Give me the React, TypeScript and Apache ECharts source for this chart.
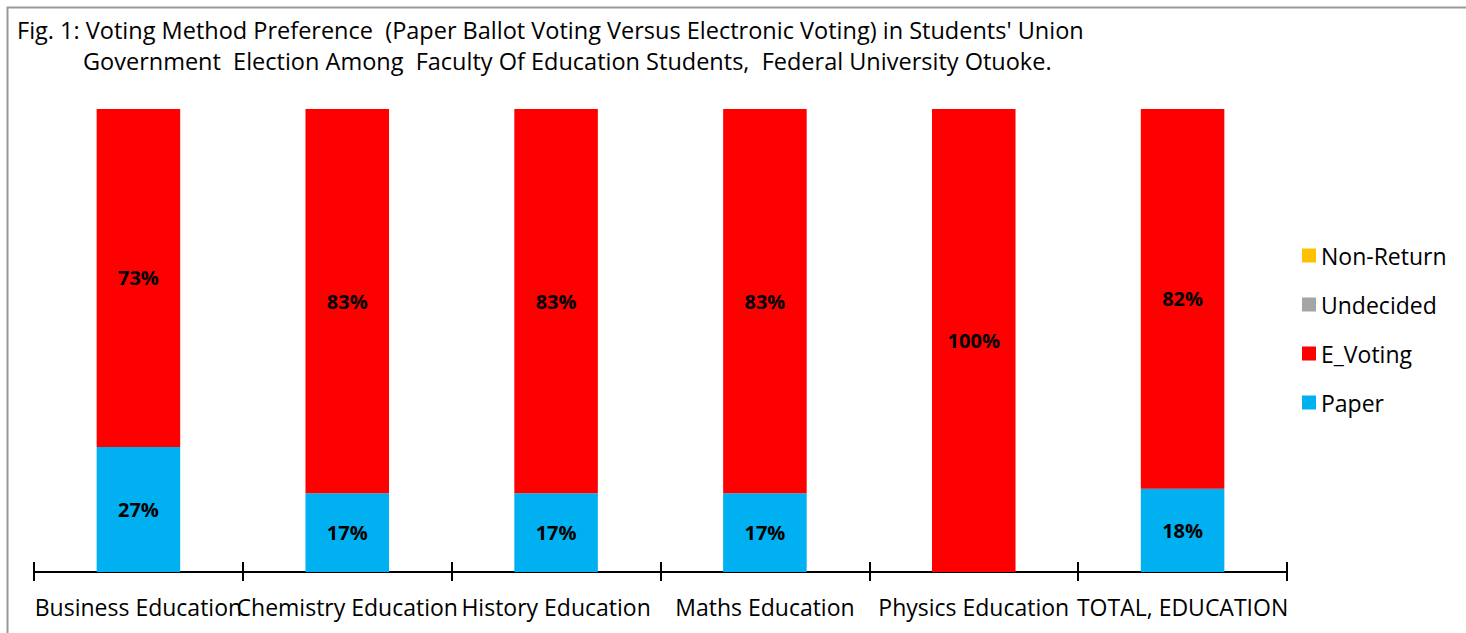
import React, { useEffect, useRef } from "react";
import * as echarts from "echarts";

const categories = [
  "Business Education",
  "Chemistry Education",
  "History Education",
  "Maths Education",
  "Physics Education",
  "TOTAL, EDUCATION",
];
const paper = [27, 17, 17, 17, 0, 18];
const eVoting = [73, 83, 83, 83, 100, 82];
const undecided = [0, 0, 0, 0, 0, 0];
const nonReturn = [0, 0, 0, 0, 0, 0];

const titleLine1 =
  "Fig. 1: Voting Method Preference  (Paper Ballot Voting Versus Electronic Voting) in Students' Union";
const titleLine2 =
  "Government  Election Among  Faculty Of Education Students,  Federal University Otuoke.";

const FONT = "Open Sans";

export default function App() {
  const ref = useRef<HTMLDivElement>(null);
  useEffect(() => {
    if (!ref.current) return;
    const chart = echarts.init(ref.current, null, { renderer: "svg" });
    const labelCfg = {
      show: true,
      position: "inside",
      color: "#000",
      fontWeight: "bold",
      fontSize: 20,
      fontFamily: FONT,
      formatter: (p: any) => (p.value > 0 ? p.value + "%" : ""),
    };
    chart.setOption({
      animation: false,
      backgroundColor: "#fff",
      textStyle: { fontFamily: FONT },
      title: [
        {
          text: titleLine1,
          left: 12,
          top: 13,
          textStyle: { fontFamily: FONT, fontSize: 23.5, fontWeight: "normal", color: "#000" },
        },
        {
          text: titleLine2,
          left: 78,
          top: 44,
          textStyle: { fontFamily: FONT, fontSize: 23.5, fontWeight: "normal", color: "#000" },
        },
      ],
      graphic: [
        {
          type: "rect",
          shape: { x: 7.5, y: 7.5, width: 1500, height: 700 },
          style: { fill: "none", stroke: "#999", lineWidth: 2 },
          silent: true,
        },
      ],
      legend: {
        orient: "vertical",
        left: 1297,
        top: 239,
        itemWidth: 14,
        itemHeight: 14,
        itemGap: 26,
        icon: "rect",
        textStyle: { fontFamily: FONT, fontSize: 23, color: "#000" },
        data: ["Non-Return", "Undecided", "E_Voting", "Paper"],
      },
      grid: { left: 34, right: 1466 - 1287, top: 109, bottom: 633 - 572, containLabel: false },
      xAxis: [
        {
          type: "category",
          data: categories,
          axisLine: { lineStyle: { color: "#000", width: 2 } },
          axisTick: { show: true, length: 9, lineStyle: { color: "#000", width: 2 } },
          axisLabel: {
            interval: 0,
            color: "#000",
            fontSize: 23,
            fontFamily: FONT,
            margin: 23,
            overflow: "none",
          },
        },
        {
          type: "category",
          data: categories,
          position: "bottom",
          axisLine: { show: false },
          axisTick: { show: true, inside: true, length: 10, lineStyle: { color: "#000", width: 2 } },
          axisLabel: { show: false },
        },
      ],
      yAxis: {
        type: "value",
        min: 0,
        max: 100,
        show: false,
      },
      series: [
        {
          name: "Paper",
          type: "bar",
          stack: "total",
          data: paper,
          barWidth: "40%",
          itemStyle: { color: "#00B0F0" },
          label: labelCfg,
        },
        {
          name: "E_Voting",
          type: "bar",
          stack: "total",
          data: eVoting,
          barWidth: "40%",
          itemStyle: { color: "#FF0000" },
          label: labelCfg,
        },
        {
          name: "Undecided",
          type: "bar",
          stack: "total",
          data: undecided,
          barWidth: "40%",
          itemStyle: { color: "#A5A5A5" },
          label: labelCfg,
        },
        {
          name: "Non-Return",
          type: "bar",
          stack: "total",
          data: nonReturn,
          barWidth: "40%",
          itemStyle: { color: "#FFC000" },
          label: labelCfg,
        },
      ],
    });
    return () => chart.dispose();
  }, []);
  return (
    <div
      ref={ref}
      style={{ position: "fixed", left: 0, top: 0, width: 1466, height: 633 }}
    />
  );
}
